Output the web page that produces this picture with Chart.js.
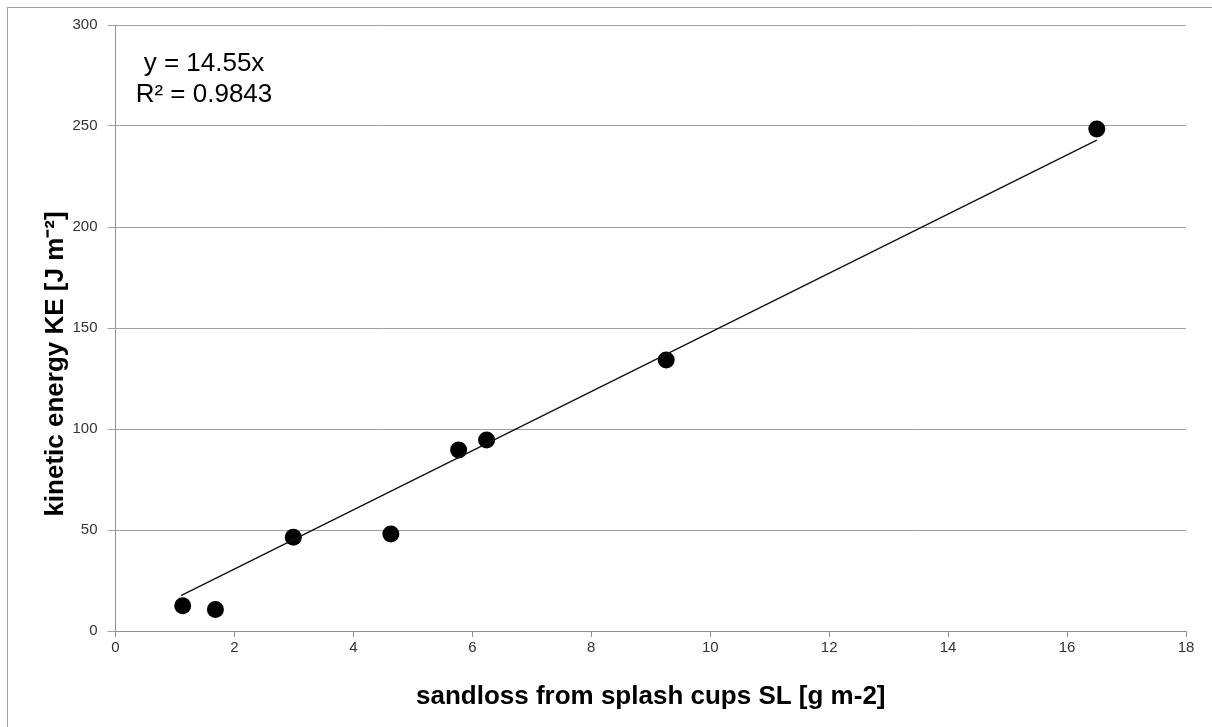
<!DOCTYPE html>
<html lang="en">
<head>
    <meta charset="UTF-8">
    <title>Kinetic energy vs sandloss</title>
    <script src="https://cdn.jsdelivr.net/npm/chart.js"></script>
    <style>
        body { margin: 0; background: #fff; }
        canvas { display: block; }
    </style>
</head>
<body>

<canvas id="keChart" width="1212" height="727"></canvas>

<script>
// measured points
const sandloss = [1.13, 1.68, 2.99, 4.63, 5.77, 6.24, 9.26, 16.5];
const kineticEnergy = [12.5, 10.7, 46.4, 48.0, 89.6, 94.6, 134.2, 248.5];

// trendline end points as drawn (y = 14.55x)
const trendX = [1.1, 16.5];
const trendY = [17.5, 243];

const xTicks = [0, 2, 4, 6, 8, 10, 12, 14, 16, 18];
const yTicks = [0, 50, 100, 150, 200, 250, 300];

const equationLines = ['y = 14.55x', 'R\u00b2 = 0.9843'];
const xTitle = 'sandloss from splash cups SL [g m-2]';
const yTitle = 'kinetic energy KE [J m\u207b\u00b2]';

const FONT = "'Liberation Sans', Arial, sans-serif";

// frame, equation and rotated y title
const extras = {
    id: 'extras',
    beforeDraw(chart) {
        const c = chart.ctx;
        c.save();
        c.fillStyle = '#fff';
        c.fillRect(0, 0, chart.width, chart.height);
        c.strokeStyle = '#a0a0a0';
        c.lineWidth = 1;
        c.strokeRect(7.5, 7.5, chart.width + 10, chart.height + 10);
        c.restore();
    },
    afterDraw(chart) {
        const c = chart.ctx;
        c.save();
        c.fillStyle = '#000';
        c.textAlign = 'center';
        c.textBaseline = 'alphabetic';
        c.font = '26px ' + FONT;
        c.fillText(equationLines[0], 204, 71);
        c.fillText(equationLines[1], 204, 102);

        c.font = 'bold 26px ' + FONT;
        c.translate(63, 364);
        c.rotate(-Math.PI / 2);
        c.fillText(yTitle, 0, 0);
        c.restore();
    }
};

const ctx = document.getElementById('keChart').getContext('2d');

new Chart(ctx, {
    type: 'scatter',
    data: {
        datasets: [
            {
                label: 'trend',
                type: 'line',
                data: trendX.map((x, i) => ({ x: x, y: trendY[i] })),
                borderColor: '#111',
                borderWidth: 1.4,
                pointRadius: 0,
                fill: false
            },
            {
                label: 'KE',
                data: sandloss.map((x, i) => ({ x: x, y: kineticEnergy[i] })),
                backgroundColor: '#000',
                borderWidth: 0,
                pointRadius: 8.5,
                pointHoverRadius: 8.5
            }
        ]
    },
    options: {
        responsive: false,
        animation: false,
        layout: { padding: { left: 0, right: 26, top: 25, bottom: 0 } },
        plugins: {
            legend: { display: false },
            tooltip: { enabled: false }
        },
        scales: {
            x: {
                type: 'linear',
                min: xTicks[0],
                max: xTicks[xTicks.length - 1],
                afterBuildTicks(scale) {
                    scale.ticks = xTicks.map(v => ({ value: v }));
                },
                afterFit(scale) { scale.height = 96; },
                ticks: {
                    color: '#333',
                    font: { family: FONT, size: 15 },
                    padding: 2,
                    maxRotation: 0
                },
                grid: {
                    drawOnChartArea: false,
                    drawTicks: true,
                    tickLength: 6,
                    color: '#909090'
                },
                border: { color: '#909090' },
                title: {
                    display: true,
                    text: xTitle,
                    color: '#000',
                    font: { family: FONT, size: 26, weight: 'bold' },
                    padding: { top: 0, bottom: 15 }
                }
            },
            y: {
                type: 'linear',
                min: yTicks[0],
                max: yTicks[yTicks.length - 1],
                afterBuildTicks(scale) {
                    scale.ticks = yTicks.map(v => ({ value: v }));
                },
                afterFit(scale) { scale.width = 115.5; },
                ticks: {
                    color: '#333',
                    font: { family: FONT, size: 15 },
                    padding: 10
                },
                grid: {
                    color: '#a0a0a0',
                    tickLength: 8
                },
                border: { color: '#909090' }
            }
        }
    },
    plugins: [extras]
});
</script>

</body>
</html>
